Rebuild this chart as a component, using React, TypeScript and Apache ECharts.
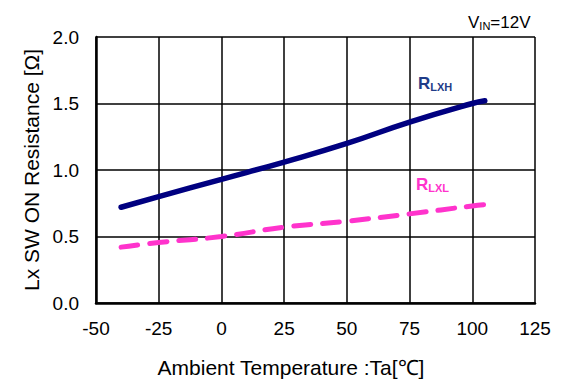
import React, { useEffect, useRef } from "react";
import * as echarts from "echarts";

const temps = [-40, -25, 0, 25, 50, 75, 100, 105];
const rLXH = [0.72, 0.8, 0.93, 1.06, 1.2, 1.36, 1.5, 1.52];
const rLXL = [0.42, 0.455, 0.5, 0.57, 0.615, 0.67, 0.73, 0.74];
const xTicks = [-50, -25, 0, 25, 50, 75, 100, 125];
const yTicks = [0, 0.5, 1.0, 1.5, 2.0];

const FONT = "Liberation Sans, Arial, sans-serif";

export default function App() {
  const ref = useRef<HTMLDivElement>(null);
  useEffect(() => {
    if (!ref.current) return;
    const chart = echarts.init(ref.current, undefined, { renderer: "svg" });
    chart.setOption({
      animation: false,
      backgroundColor: "#ffffff",
      textStyle: { fontFamily: FONT },
      grid: { left: 96, right: 30, top: 37, bottom: 77, outerBoundsMode: "none", containLabel: false },
      xAxis: {
        type: "value",
        min: xTicks[0],
        max: xTicks[xTicks.length - 1],
        interval: 25,
        axisLine: { show: true, onZero: false, lineStyle: { color: "#000", width: 2.5 } },
        axisTick: { show: false },
        splitLine: { show: true, lineStyle: { color: "#000", width: 1.5 } },
        axisLabel: { color: "#000", fontSize: 19, margin: 16, fontFamily: FONT },
      },
      yAxis: {
        type: "value",
        min: yTicks[0],
        max: yTicks[yTicks.length - 1],
        interval: 0.5,
        name: "Lx SW ON Resistance [\u03A9]",
        nameLocation: "middle",
        nameGap: 54,
        nameTextStyle: { color: "#000", fontSize: 21, fontFamily: FONT },
        axisLine: { show: true, onZero: false, lineStyle: { color: "#000", width: 2.5 } },
        axisTick: { show: false },
        splitLine: { show: true, lineStyle: { color: "#000", width: 1.5 } },
        axisLabel: {
          color: "#000",
          fontSize: 19,
          margin: 17,
          fontFamily: FONT,
          formatter: (v: number) => v.toFixed(1),
        },
      },
      series: [
        {
          type: "line",
          data: temps.map((t, i) => [t, rLXH[i]]),
          showSymbol: false,
          smooth: true,
          lineStyle: { color: "#000080", width: 5.5, cap: "round" },
        },
        {
          type: "line",
          data: temps.map((t, i) => [t, rLXL[i]]),
          showSymbol: false,
          smooth: true,
          lineStyle: { color: "#FF33CC", width: 5, type: [17, 12], cap: "round" },
        },
      ],
      graphic: [
        {
          type: "text",
          x: 291,
          y: 367,
          style: {
            text: "Ambient Temperature :Ta[\u2103]",
            fontSize: 21,
            fill: "#000",
            fontFamily: FONT,
            align: "center",
            verticalAlign: "middle",
          },
        },
        {
          type: "text",
          x: 418,
          y: 72,
          style: {
            text: "{a|R}{b|LXH}",
            rich: {
              a: { fontSize: 17, fontWeight: "bold", fill: "#1F3C88", fontFamily: FONT, verticalAlign: "bottom", lineHeight: 20 },
              b: { fontSize: 11, fontWeight: "bold", fill: "#1F3C88", fontFamily: FONT, verticalAlign: "bottom", lineHeight: 16 },
            },
          },
        },
        {
          type: "text",
          x: 416,
          y: 173,
          style: {
            text: "{a|R}{b|LXL}",
            rich: {
              a: { fontSize: 17, fontWeight: "bold", fill: "#FF33CC", fontFamily: FONT, verticalAlign: "bottom", lineHeight: 20 },
              b: { fontSize: 11, fontWeight: "bold", fill: "#FF33CC", fontFamily: FONT, verticalAlign: "bottom", lineHeight: 16 },
            },
          },
        },
        {
          type: "text",
          x: 468,
          y: 9,
          style: {
            text: "{a|V}{b|IN}{a|=12V}",
            rich: {
              a: { fontSize: 17, fill: "#000", fontFamily: FONT, verticalAlign: "bottom", lineHeight: 22 },
              b: { fontSize: 11, fill: "#000", fontFamily: FONT, verticalAlign: "bottom", lineHeight: 17 },
            },
          },
        },
      ],
    });
    return () => chart.dispose();
  }, []);
  return (
    <div
      ref={ref}
      style={{ position: "absolute", left: 0, top: 0, width: 565, height: 380 }}
    />
  );
}
